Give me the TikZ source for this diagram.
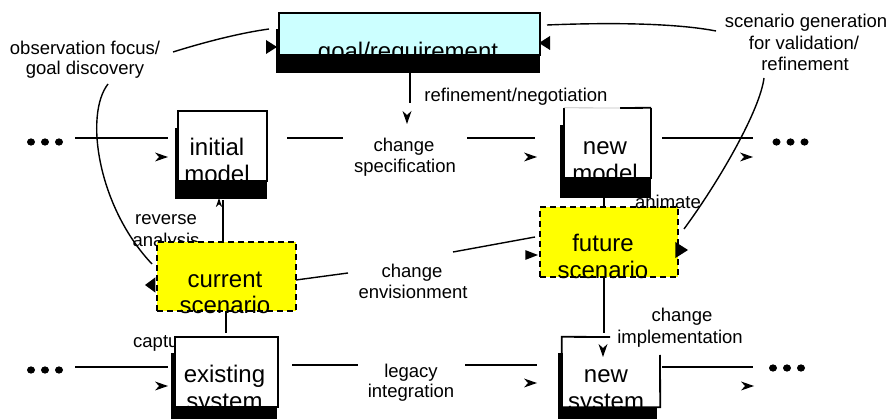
\documentclass[tikz,border=0pt]{standalone}
\usepackage{fontspec}
\setmainfont{Liberation Sans}
\definecolor{goalcyan}{HTML}{CCFFFF}
\definecolor{scenyellow}{HTML}{FFFF00}
\newcommand\lblfont{\fontsize{18.5}{21}\selectfont}
\newcommand\boxfont{\fontsize{24}{27}\selectfont}
\tikzset{
  conn/.style={line width=1.4pt},
  lbl/.style={font=\lblfont, inner sep=0pt, anchor=base},
  btxt/.style={font=\boxfont, inner sep=0pt, anchor=base},
  plainbox/.style={draw, line width=1.8pt, fill=white, inner sep=0pt},
  goalbox/.style={plainbox, fill=goalcyan},
  openbox/.style={fill=white, inner sep=0pt},
  bordr/.style={line width=1.8pt},
  scenbox/.style={draw, line width=1.8pt, dash pattern=on 6pt off 4pt, fill=scenyellow, inner sep=0pt},
  band/.style={fill=black},
  openhead/.pic={\fill (0,0) -- (-13,-4.5) -- (-9,0) -- (-13,4.5) -- cycle;},
  trihead/.pic={\fill (0,0) -- (-11,-7) -- (-11,7) -- cycle;},
  dotrow/.pic={\fill (-14,0) ellipse (4 and 3.6); \fill (0,0) ellipse (4 and 3.6); \fill (14,0) ellipse (4 and 3.6);},
}
\begin{document}
\begin{tikzpicture}[x=1pt,y=-1pt]
\useasboundingbox (0,0) rectangle (892,419);
\fill[white] (0,0) rectangle (892,419);

% labels partly hidden behind boxes
\node[lbl] (revA) at (166,225) {reverse};
\node[lbl] (revB) at (166,247) {analysis};
\node[lbl, anchor=base west] (capt) at (133,348) {capture};

% goal/requirement
\node[goalbox, minimum width=261pt, minimum height=42pt] (goal) at (409.5,34) {};
\node[btxt] (goalT) at (408,60) {goal/requirement};
\fill[band] (276,54) rectangle (540,73);
\fill[band] (276,29) rectangle (280,54);

% initial model
\node[plainbox, minimum width=89pt, minimum height=70pt] (initial) at (222.5,146) {};
\node[btxt] (initT1) at (217,156) {initial};
\node[btxt] (initT2) at (217,183) {model};
\fill[band] (175,180) rectangle (267,199);
\fill[band] (175,128) rectangle (179,181);

% new model
\node[openbox, minimum width=87pt, minimum height=70pt] (newmodel) at (607.5,143) {};
\node[btxt] (nmT1) at (605,155) {new};
\node[btxt] (nmT2) at (605,182) {model};
\draw[bordr] (newmodel.north east) -- (newmodel.south east) -- (newmodel.south west) -- (newmodel.north west);
\coordinate (nmTop) at (620,108);
\draw[bordr] (nmTop) -- (newmodel.north east);
\draw[black!25, line width=0.8pt] (newmodel.north west) -- (nmTop);
\fill[band] (560,178) rectangle (651,198);
\fill[band] (560,125) rectangle (565,178);

% existing system
\node[plainbox, minimum width=103pt, minimum height=70pt] (existing) at (226.5,372) {};
\node[btxt] (exT1) at (224.5,383) {existing};
\node[btxt] (exT2) at (224.5,410) {system};
\fill[band] (171,407) rectangle (277,419);
\fill[band] (171,353) rectangle (176,407);

% new system
\node[openbox, minimum width=98pt, minimum height=70pt] (newsys) at (611,372) {};
\node[btxt] (nsT1) at (606,383) {new};
\node[btxt] (nsT2) at (606,410) {system};
\coordinate (nsTop) at (610,337);
\coordinate (nsRight) at (660,355);
\draw[bordr] (nsTop) -- (newsys.north west) -- (newsys.south west) -- (newsys.south east) -- (nsRight);
\fill[band] (558,407) rectangle (657,419);
\fill[band] (558,353) rectangle (563,407);

% scenarios
\node[scenbox, minimum width=139pt, minimum height=69pt] (current) at (226.5,276.5) {};
\node[btxt] (curT1) at (225,288) {current};
\node[btxt] (curT2) at (225,314) {scenario};
\node[scenbox, minimum width=138pt, minimum height=70pt] (future) at (609,242) {};
\node[btxt] (futT1) at (603,252) {future};
\node[btxt] (futT2) at (603,279) {scenario};

% labels
\node[lbl] (obsA) at (85,55) {observation focus/};
\node[lbl] (obsB) at (85,75) {goal discovery};
\node[lbl] (sgA) at (806,28) {scenario generation};
\node[lbl] (sgB) at (804,50) {for validation/};
\node[lbl] (sgC) at (805,71) {refinement};
\node[lbl] (refneg) at (516,102) {refinement/negotiation};
\node[lbl] (csA) at (404,152) {change};
\node[lbl] (csB) at (405,173) {specification};
\node[lbl] (anim) at (668,209) {animate};
\node[lbl] (ceA) at (412,278) {change};
\node[lbl] (ceB) at (413,299) {envisionment};
\node[lbl] (lgA) at (411,378) {legacy};
\node[lbl] (lgB) at (411,398) {integration};
\node[lbl] (ciA) at (682,322) {change};
\node[lbl] (ciB) at (680,344) {implementation};

% dots
\pic at (45,142) {dotrow};
\pic at (790.5,142) {dotrow};
\pic at (45,370) {dotrow};
\pic at (787,368) {dotrow};

% row 1 connectors
\coordinate (a1) at (75,138);  \coordinate (a2) at (168,138);
\coordinate (b1) at (287,138); \coordinate (b2) at (343,138);
\coordinate (c1) at (467,138); \coordinate (c2) at (535,138);
\coordinate (d1) at (662,138); \coordinate (d2) at (753,138);
\draw[conn] (a1) -- (a2);
\draw[conn] (b1) -- (b2);
\draw[conn] (c1) -- (c2);
\draw[conn] (d1) -- (d2);
\pic at (168,157) {openhead};
\pic at (537,157) {openhead};
\pic at (753,157) {openhead};

% row 3 connectors
\coordinate (e1) at (75,367);  \coordinate (e2) at (168,367);
\coordinate (f1) at (292,365); \coordinate (f2) at (358,365);
\coordinate (g1) at (465,365); \coordinate (g2) at (537,365);
\coordinate (h1) at (662,367); \coordinate (h2) at (753,367);
\draw[conn] (e1) -- (e2);
\draw[conn] (f1) -- (f2);
\draw[conn] (g1) -- (g2);
\draw[conn] (h1) -- (h2);
\pic at (168,386) {openhead};
\pic at (537,383) {openhead};
\pic at (754,386) {openhead};

% verticals
\coordinate (v1a) at (410,73);  \coordinate (v1b) at (410,103);
\draw[conn] (v1a) -- (v1b);
\pic[rotate=-90] at (407,124) {openhead};
\coordinate (v2a) at (223,242); \coordinate (v2b) at (223,200);
\draw[conn] (v2a) -- (v2b);
\pic[rotate=90, scale=0.7] at (219,198) {openhead};
\coordinate (v3a) at (226,311); \coordinate (v3b) at (226,333);
\draw[conn] (v3a) -- (v3b);
\coordinate (v4a) at (604,198); \coordinate (v4b) at (604,207);
\draw[conn] (v4a) -- (v4b);
\coordinate (v5a) at (604,277); \coordinate (v5b) at (604,333);
\draw[conn] (v5a) -- (v5b);
\pic[rotate=-90] at (603,357) {openhead};

% change envisionment
\coordinate (ce1) at (296,280); \coordinate (ce2) at (348,273);
\coordinate (ce3) at (453,252); \coordinate (ce4) at (535,237);
\draw[conn] (ce1) -- (ce2);
\draw[conn] (ce3) -- (ce4);
\pic[yscale=0.7, xscale=1.15] at (538,255) {trihead};

% observation focus curves
\coordinate (o1) at (173,52); \coordinate (o2) at (269,29);
\draw[conn] (o1) .. controls (205,42) and (240,33) .. (o2);
\pic at (277,47) {trihead};
\coordinate (o3) at (108,84); \coordinate (o4) at (152,264);
\draw[conn] (o3) .. controls (84,115) and (98,207) .. (o4);
\pic[rotate=180, xscale=0.95, yscale=1.1] at (145,285) {trihead};

% scenario generation curves
\coordinate (s1) at (716,31); \coordinate (s2) at (547,25);
\draw[conn] (s1) .. controls (680,24) and (620,22) .. (s2);
\pic[rotate=180] at (539,43) {trihead};
\coordinate (s3) at (764,78); \coordinate (s4) at (684,229);
\draw[conn] (s3) .. controls (760,110) and (720,180) .. (s4);
\pic[xscale=1.15, yscale=1.15] at (688,250) {trihead};
\end{tikzpicture}
\end{document}
